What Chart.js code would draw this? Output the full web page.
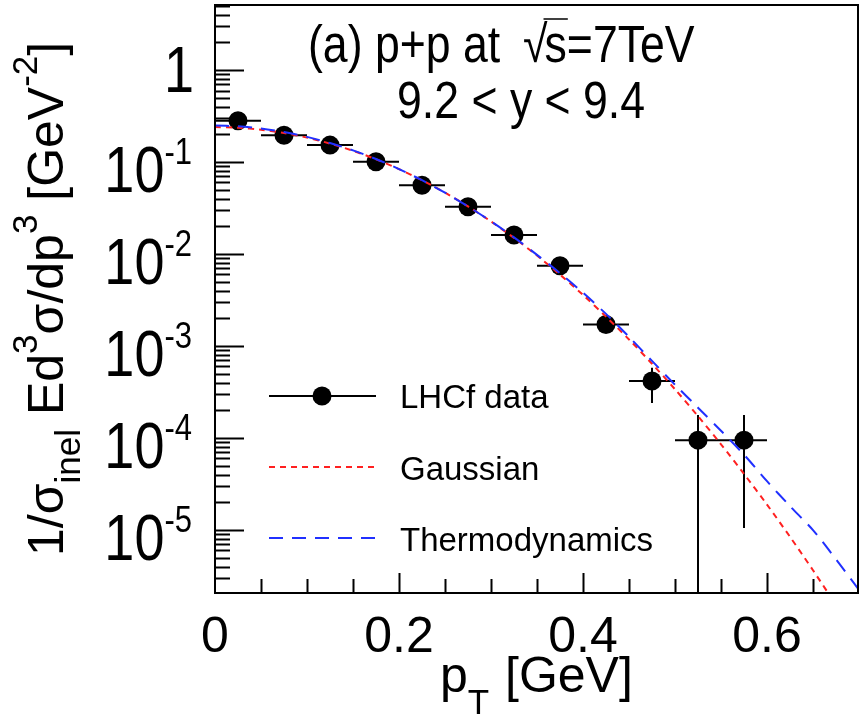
<!DOCTYPE html>
<html>
<head>
<meta charset="utf-8">
<script src="https://cdn.jsdelivr.net/npm/chart.js@4"></script>
<style>
  body { margin: 0; background: #fff; }
  canvas { display: block; }
</style>
</head>
<body>
<canvas id="spectrum" width="859" height="715"></canvas>
<script>
// LHCf pi0 pT spectrum, p+p at 7 TeV, 9.2 < y < 9.4
var ptBins  = [0.025, 0.075, 0.125, 0.175, 0.225, 0.275, 0.325, 0.375, 0.425, 0.475, 0.525, 0.575];
var lhcf    = [0.281, 0.196, 0.153, 0.101, 0.056, 0.0327, 0.0161, 0.00746, 0.00172, 4.17e-4, 9.5e-5, 9.5e-5];
var lhcfLow = [0.272, 0.190, 0.148, 0.097, 0.054, 0.0312, 0.0153, 0.0071, 0.00160, 2.4e-4, 1e-8, 1.05e-5];
var lhcfHigh= [0.290, 0.203, 0.158, 0.105, 0.058, 0.0342, 0.0169, 0.0079, 0.00185, 5.8e-4, 1.78e-4, 1.78e-4];
var binHalf = 0.025;

var curvePt  = [0, 0.025, 0.05, 0.075, 0.1, 0.125, 0.15, 0.175, 0.2, 0.225, 0.25, 0.275, 0.3, 0.325,
                0.35, 0.375, 0.4, 0.425, 0.45, 0.475, 0.5, 0.525, 0.55, 0.575, 0.6, 0.625, 0.65, 0.675, 0.7];
var gaussian = [0.240, 0.236, 0.2246, 0.207, 0.1845, 0.159, 0.1329, 0.1074, 0.0839, 0.0635, 0.0465, 0.033, 0.0226, 0.0150,
                0.00963, 0.00598, 0.0036, 0.00209, 0.00118, 6.43e-4, 3.39e-4, 1.73e-4, 8.54e-5, 4.08e-5, 1.89e-5, 8.45e-6, 3.66e-6, 1.53e-6, 6.2e-7];
var thermo   = [0.250, 0.245, 0.232, 0.212, 0.188, 0.161, 0.134, 0.108, 0.084, 0.0635, 0.0465, 0.033, 0.0227, 0.0152,
                0.0098, 0.0062, 0.0038, 0.00224, 0.00126, 6.9e-4, 3.8e-4, 2.14e-4, 1.2e-4, 6.6e-5, 3.4e-5, 1.82e-5, 1.0e-5, 4.8e-6, 2.24e-6];

var xTicks = [0, 0.2, 0.4, 0.6];
var yDecades = [0, -1, -2, -3, -4, -5];

var FONT = '"Liberation Sans", Arial, Helvetica, sans-serif';

function txt(ctx, s, x, y, size, sx, sy) {
    ctx.save();
    ctx.translate(x, y);
    ctx.scale(sx || 1, sy || 1);
    ctx.font = size + 'px ' + FONT;
    ctx.fillText(s, 0, 0);
    var w = ctx.measureText(s).width * (sx || 1);
    ctx.restore();
    return w;
}

var rootStyle = {
    id: 'rootStyle',
    beforeDatasetsDraw: function(chart) {
        var ctx = chart.ctx, xs = chart.scales.x, ys = chart.scales.y, a = chart.chartArea;
        ctx.save();
        ctx.beginPath();
        ctx.rect(a.left, a.top, a.right - a.left, a.bottom - a.top);
        ctx.clip();
        ctx.strokeStyle = '#000';
        ctx.lineWidth = 2;
        for (var i = 0; i < ptBins.length; i++) {
            var px = xs.getPixelForValue(ptBins[i]);
            var py = ys.getPixelForValue(lhcf[i]);
            ctx.beginPath();
            ctx.moveTo(xs.getPixelForValue(ptBins[i] - binHalf), py);
            ctx.lineTo(xs.getPixelForValue(ptBins[i] + binHalf), py);
            ctx.moveTo(px, ys.getPixelForValue(lhcfHigh[i]));
            ctx.lineTo(px, ys.getPixelForValue(lhcfLow[i]));
            ctx.stroke();
        }
        ctx.restore();
    },
    afterDraw: function(chart) {
        var ctx = chart.ctx, xs = chart.scales.x, ys = chart.scales.y, a = chart.chartArea;
        ctx.save();
        ctx.strokeStyle = '#000';
        ctx.fillStyle = '#000';

        // frame
        ctx.lineWidth = 2;
        ctx.strokeRect(a.left, a.top, a.right - a.left - 1, a.bottom - a.top);

        // y ticks (log, inward)
        ctx.beginPath();
        for (var d = 0; d >= -6; d--) {
            for (var m = 1; m <= 9; m++) {
                var v = m * Math.pow(10, d);
                if (v < ys.min || v > ys.max) continue;
                var py = Math.round(ys.getPixelForValue(v)) + 0.5;
                ctx.moveTo(a.left, py);
                ctx.lineTo(a.left + (m === 1 ? 29 : 15), py);
            }
        }
        // x ticks
        for (var k = 1; k <= 13; k++) {
            var xv = k * 0.05;
            var px = Math.round(xs.getPixelForValue(xv)) + 0.5;
            ctx.moveTo(px, a.bottom);
            ctx.lineTo(px, a.bottom - (k % 4 === 0 ? 20 : 14));
        }
        ctx.stroke();

        // x tick labels
        ctx.textBaseline = 'alphabetic';
        ctx.textAlign = 'center';
        xTicks.forEach(function(t) {
            txt(ctx, String(t), xs.getPixelForValue(t), 652, 50);
        });

        // y tick labels
        ctx.textAlign = 'left';
        yDecades.forEach(function(e) {
            var py = ys.getPixelForValue(Math.pow(10, e));
            var right = 192;
            if (e === 0) {
                ctx.font = '54px ' + FONT;
                var w1 = ctx.measureText('1').width;
                txt(ctx, '1', right - w1 + 2, py + 22, 54, 1, 1.2);
            } else {
                ctx.font = '31px ' + FONT;
                var sup = String(e);
                var ws = ctx.measureText(sup).width;
                ctx.font = '54px ' + FONT;
                var wb = ctx.measureText('10').width;
                txt(ctx, '10', right - ws - wb, py + 30, 54, 1, 1.2);
                txt(ctx, sup, right - ws, py + 2, 31, 1, 1.2);
            }
        });

        // x title
        var xt = 440;
        xt += txt(ctx, 'p', xt, 692, 50);
        txt(ctx, 'T', xt, 714, 35);
        txt(ctx, '[GeV]', 505, 692, 50);

        // y title, rotated
        ctx.save();
        ctx.translate(63, 556);
        ctx.rotate(-Math.PI / 2);
        var yt = 0;
        yt += txt(ctx, '1/\u03c3', yt, 0, 50);
        yt += txt(ctx, 'inel', yt, 17, 35);
        yt += txt(ctx, ' Ed', yt, 0, 50);
        yt += txt(ctx, '3', yt, -26, 35);
        yt += txt(ctx, '\u03c3/dp', yt, 0, 50);
        yt += txt(ctx, '3', yt, -26, 35);
        yt += txt(ctx, ' [GeV', yt, 0, 50);
        yt += txt(ctx, '-2', yt, -26, 35);
        txt(ctx, ']', yt, 0, 50);
        ctx.restore();

        // annotations
        var ax = 308;
        ax += txt(ctx, '(a) p+p at  ', ax, 62, 46, 0.97, 1.12);
        var rw = txt(ctx, '\u221a', ax - 2, 62, 46, 0.97, 1.12);
        var sx = ax - 2 + rw - 3;
        var sw = txt(ctx, 's', sx, 62, 46, 0.97, 1.12);
        ctx.lineWidth = 1.5;
        ctx.beginPath();
        ctx.moveTo(sx - 1, 19);
        ctx.lineTo(sx + sw + 1, 19);
        ctx.stroke();
        txt(ctx, '=7TeV', sx + sw, 62, 46, 0.97, 1.12);
        txt(ctx, '9.2 < y < 9.4', 397, 118, 46, 0.97, 1.12);

        // legend
        ctx.lineWidth = 2;
        ctx.beginPath();
        ctx.moveTo(269, 396);
        ctx.lineTo(376, 396);
        ctx.stroke();
        ctx.beginPath();
        ctx.arc(322, 396, 9.5, 0, Math.PI * 2);
        ctx.fill();
        ctx.setLineDash([6, 5]);
        ctx.strokeStyle = '#ff2020';
        ctx.beginPath();
        ctx.moveTo(269, 467);
        ctx.lineTo(376, 467);
        ctx.stroke();
        ctx.setLineDash([14, 9]);
        ctx.strokeStyle = '#2030ff';
        ctx.beginPath();
        ctx.moveTo(269, 538);
        ctx.lineTo(376, 538);
        ctx.stroke();
        ctx.setLineDash([]);
        txt(ctx, 'LHCf data', 400, 408, 33);
        txt(ctx, 'Gaussian', 400, 480, 33);
        txt(ctx, 'Thermodynamics', 400, 551, 33);

        ctx.restore();
    }
};

var canvas = document.getElementById('spectrum');
var chart = new Chart(canvas, {
    type: 'line',
    data: {
        datasets: [
            {
                label: 'LHCf data',
                data: ptBins.map(function(x, i) { return { x: x, y: lhcf[i] }; }),
                showLine: false,
                pointRadius: 9.5,
                pointBackgroundColor: '#000',
                pointBorderColor: '#000',
                pointBorderWidth: 0,
                order: 2
            },
            {
                label: 'Gaussian',
                data: curvePt.map(function(x, i) { return { x: x, y: gaussian[i] }; }),
                borderColor: '#ff2020',
                borderWidth: 2,
                borderDash: [6, 5],
                pointRadius: 0,
                tension: 0.3,
                order: 1
            },
            {
                label: 'Thermodynamics',
                data: curvePt.map(function(x, i) { return { x: x, y: thermo[i] }; }),
                borderColor: '#2030ff',
                borderWidth: 2,
                borderDash: [14, 9],
                pointRadius: 0,
                tension: 0.3,
                order: 0
            }
        ]
    },
    options: {
        responsive: false,
        animation: false,
        layout: { autoPadding: false, padding: { left: 215, top: 5, right: 0, bottom: 122 } },
        plugins: { legend: { display: false }, tooltip: { enabled: false } },
        scales: {
            x: { type: 'linear', min: 0, max: 0.7, display: false },
            y: { type: 'logarithmic', min: 2.07e-6, max: 5.1, display: false }
        }
    },
    plugins: [rootStyle]
});
</script>
</body>
</html>
